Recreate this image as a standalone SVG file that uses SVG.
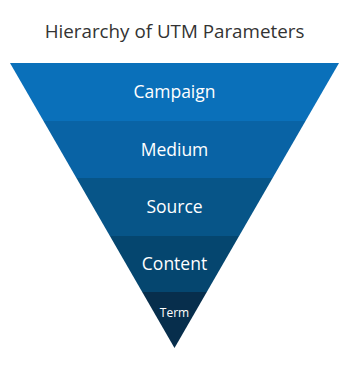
<svg xmlns="http://www.w3.org/2000/svg" width="349" height="370" viewBox="0 0 349 370">
<style>
.lbl{font-family:"Open Sans","Liberation Sans",sans-serif;fill:#fff;text-anchor:middle;font-size:17.5px}
.title{font-family:"Open Sans","Liberation Sans",sans-serif;fill:#333;text-anchor:middle;font-size:18.8px}
</style>
<rect width="349" height="370" fill="#fff"/>
<text class="title" x="174.5" y="38">Hierarchy of UTM Parameters</text>
<g id="campaign"><polygon points="10,63 339,63 305.5,121 43.5,121" fill="#0a70ba"/><text class="lbl" x="174.5" y="98">Campaign</text></g>
<g id="medium"><polygon points="43.5,121 305.5,121 272.6,178 76.4,178" fill="#0963a5"/><text class="lbl" x="174.5" y="156">Medium</text></g>
<g id="source"><polygon points="76.4,178 272.6,178 239.1,236 109.9,236" fill="#075588"/><text class="lbl" x="174.5" y="213">Source</text></g>
<g id="content"><polygon points="109.9,236 239.1,236 206.8,292 142.2,292" fill="#05466f"/><text class="lbl" x="174.5" y="270">Content</text></g>
<g id="term"><polygon points="142.2,292 206.8,292 174.5,348" fill="#072e4c"/><text class="lbl" x="174.5" y="317" style="font-size:12px">Term</text></g>
<g id="connectors"/>
</svg>
